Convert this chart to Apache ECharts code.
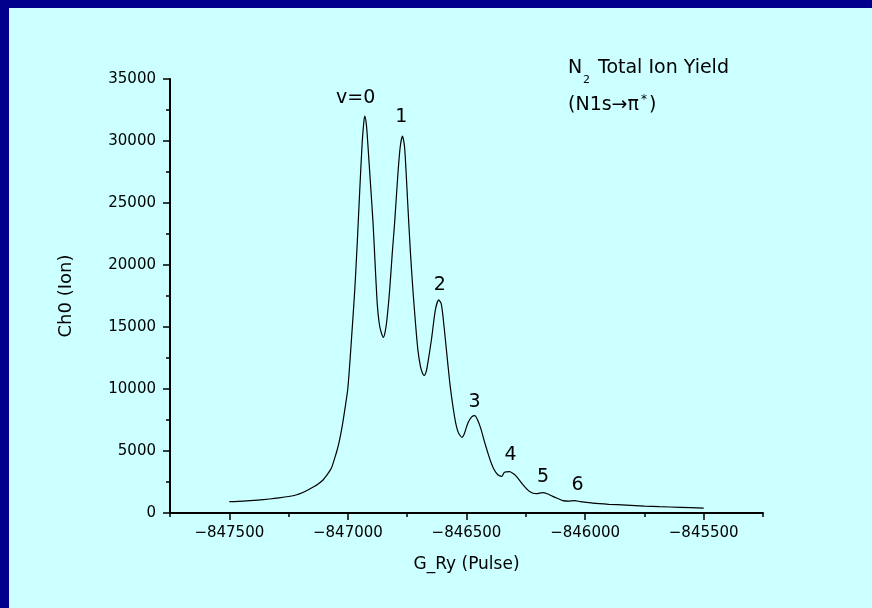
<!DOCTYPE html>
<html>
<head>
<meta charset="utf-8">
<script src="https://cdn.jsdelivr.net/npm/echarts@6/dist/echarts.min.js"></script>
<style>
  html, body { margin: 0; padding: 0; width: 872px; height: 608px; overflow: hidden; background: #00008C; }
  #bg { position: absolute; left: 9px; top: 8px; right: 0; bottom: 0; background: #CCFFFF; }
  #chart { position: absolute; left: 0; top: 0; width: 872px; height: 608px; }
</style>
</head>
<body>
<div id="bg"></div>
<div id="chart"></div>
<script>
// ---- data ----
const xValues = [
  -847500, -847440, -847380, -847330, -847290, -847250, -847219, -847190, -847160, -847130,
  -847105, -847085, -847070, -847056, -847045, -847035, -847024, -847013, -847000, -846985,
  -846971, -846960, -846950, -846940, -846933, -846929, -846922, -846915, -846905, -846894,
  -846884, -846876, -846868, -846860, -846850, -846843, -846836, -846824, -846813, -846803,
  -846789, -846779, -846770, -846761, -846747, -846737, -846726, -846715, -846705, -846694,
  -846685, -846678, -846670, -846663, -846648, -846631, -846617, -846607, -846599, -846586,
  -846571, -846557, -846545, -846536, -846527, -846519, -846510, -846494, -846478, -846465,
  -846452, -846438, -846425, -846410, -846398, -846385, -846368, -846351, -846340, -846318,
  -846305, -846290, -846262, -846234, -846206, -846178, -846160, -846136, -846110, -846094,
  -846070, -846045, -846020, -845968, -845900, -845827, -845750, -845687, -845600, -845500
];
const yValues = [
  915, 960, 1040, 1130, 1220, 1330, 1450, 1650, 1950, 2280,
  2660, 3150, 3600, 4400, 5100, 5900, 7000, 8330, 10100, 14000,
  18000, 22000, 26050, 29800, 31500, 32000, 31300, 29500, 26600, 23400,
  19600, 16800, 15300, 14600, 14170, 14600, 15500, 17985, 20950, 23400,
  27400, 29600, 30400, 29500, 24700, 21200, 18000, 15300, 13150, 11800,
  11250, 11100, 11400, 12100, 13950, 16400, 17180, 16900, 15830, 13410,
  10600, 8570, 7200, 6560, 6250, 6100, 6350, 7260, 7750, 7850,
  7450, 6700, 5800, 4850, 4150, 3550, 3090, 2960, 3280, 3330,
  3200, 2960, 2280, 1740, 1555, 1640, 1550, 1340, 1130, 1000,
  960, 990, 920, 790, 700, 640, 560, 510, 460, 390
];
const peakNames = ['v=0', '1', '2', '3', '4', '5', '6'];
const peakLabelX = [-846967, -846775, -846613, -846466, -846314, -846177, -846032];
const peakLabelY = [33470, 31960, 18390, 8910, 4640, 2860, 2220];
const xMajorTicks = [-847500, -847000, -846500, -846000, -845500];
const xMinorTicks = [-847750, -847250, -846750, -846250, -845750, -845250];
const xMin = -847750, xMax = -845250;
const yMin = 0, yMax = 35000, yStep = 5000;
const xTitle = 'G_Ry (Pulse)';
const yTitle = 'Ch0 (Ion)';

// ---- chart ----
const FONT = 'DejaVu Sans';
const chart = echarts.init(document.getElementById('chart'), null, { renderer: 'canvas' });
const lineData = xValues.map((x, i) => [x, yValues[i]]);
const labelData = peakNames.map((n, i) => ({ name: n, value: [peakLabelX[i], peakLabelY[i]] }));

const axisLineStyle = { color: '#000', width: 2 };
chart.setOption({
  backgroundColor: 'transparent',
  animation: false,
  grid: { left: 170, top: 79, width: 593, height: 434, containLabel: false },
  xAxis: [
    {
      type: 'value', min: xMin, max: xMax, position: 'bottom',
      splitLine: { show: false },
      axisLine: { show: true, onZero: false, lineStyle: axisLineStyle },
      axisTick: { show: true, length: 7, lineStyle: { color: '#000', width: 1.5 }, customValues: xMajorTicks },
      axisLabel: {
        show: true, customValues: xMajorTicks, margin: 13,
        color: '#000', fontFamily: FONT, fontSize: 15,
        formatter: v => (v < 0 ? '\u2212' : '') + Math.abs(v)
      },
      name: xTitle, nameLocation: 'middle', nameGap: 43,
      nameTextStyle: { color: '#000', fontFamily: FONT, fontSize: 17 }
    },
    {
      type: 'value', min: xMin, max: xMax, position: 'bottom',
      splitLine: { show: false },
      axisLine: { show: false },
      axisTick: { show: true, length: 4, lineStyle: { color: '#000', width: 1.5 }, customValues: xMinorTicks },
      axisLabel: { show: false }
    }
  ],
  yAxis: {
    type: 'value', min: yMin, max: yMax, interval: yStep,
    splitLine: { show: false },
    axisLine: { show: true, onZero: false, lineStyle: axisLineStyle },
    axisTick: { show: true, length: 7, lineStyle: { color: '#000', width: 1.5 } },
    minorTick: { show: true, splitNumber: 2, length: 4, lineStyle: { color: '#000', width: 1.5 } },
    minorSplitLine: { show: false },
    axisLabel: { margin: 14, color: '#000', fontFamily: FONT, fontSize: 15, formatter: v => String(v) },
    name: yTitle, nameLocation: 'middle', nameGap: 95, nameRotate: 90,
    nameTextStyle: { color: '#000', fontFamily: FONT, fontSize: 18 }
  },
  series: [
    {
      type: 'line', data: lineData, xAxisIndex: 0, yAxisIndex: 0,
      showSymbol: false, symbol: 'none', smooth: 0.25,
      lineStyle: { color: '#000', width: 1.2 }, silent: true, z: 3
    },
    {
      type: 'scatter', data: labelData, xAxisIndex: 0, yAxisIndex: 0,
      symbolSize: 1, itemStyle: { color: 'rgba(0,0,0,0)' }, silent: true,
      label: {
        show: true, position: 'inside', formatter: p => p.name,
        color: '#000', fontFamily: FONT, fontSize: 19, opacity: 1
      }
    }
  ],
  graphic: [
    { type: 'text', left: 568, top: 59, style: { text: 'N', fill: '#000', font: '19px "DejaVu Sans"' } },
    { type: 'text', left: 583, top: 75, style: { text: '2', fill: '#000', font: '11px "DejaVu Sans"' } },
    { type: 'text', left: 598, top: 59, style: { text: 'Total Ion Yield', fill: '#000', font: '19px "DejaVu Sans"' } },
    { type: 'text', left: 568, top: 96, style: { text: '(N1s\u2192\u03C0', fill: '#000', font: '19px "DejaVu Sans"' } },
    { type: 'text', left: 641, top: 94, style: { text: '*', fill: '#000', font: '12px "DejaVu Sans"' } },
    { type: 'text', left: 649, top: 96, style: { text: ')', fill: '#000', font: '19px "DejaVu Sans"' } }
  ]
});
</script>
</body>
</html>
